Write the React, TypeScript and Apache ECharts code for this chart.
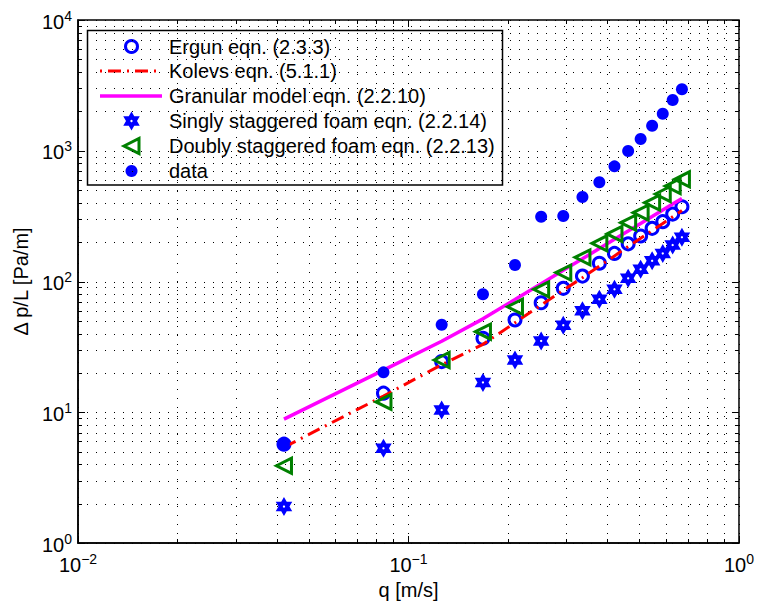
import React, { useEffect, useRef } from "react";
import * as echarts from "echarts";

const FONT = "Liberation Sans, Arial, Helvetica, sans-serif";

const qValues = [0.042, 0.084, 0.126, 0.168, 0.21, 0.252, 0.294, 0.336, 0.378, 0.42, 0.462, 0.504, 0.546, 0.588, 0.63, 0.672];
const ergun = [5.7, 14.0, 24.4, 36.8, 50.8, 68.8, 88.7, 110, 138, 164, 194, 223, 255, 287, 328, 373];
const kolevs = [5.4, 13.3, 23.1, 33.1, 48.4, 66.0, 85.8, 107, 131, 157, 185, 214, 245, 278, 313, 349];
const granular = [8.86, 21.0, 34.9, 51.8, 72.8, 96.2, 122, 149, 179, 210, 243, 278, 314, 352, 391, 431];
const singly = [1.9, 5.3, 10.4, 16.9, 25.1, 35.1, 46.3, 59.8, 73.1, 87.2, 105.7, 124, 144, 164, 190, 218];
const doubly = [3.9, 12.0, 25.1, 41.3, 64.1, 87.1, 117, 153, 196, 231, 282, 336, 401, 467, 537, 605];
const measured = [5.7, 20.2, 46.7, 79.8, 133.7, 313, 317, 443, 574, 760, 995, 1230, 1555, 1920, 2445, 2950];

const seriesNames = [
  "Ergun eqn. (2.3.3)",
  "Kolevs eqn. (5.1.1)",
  "Granular model eqn. (2.2.10)",
  "Singly staggered foam eqn. (2.2.14)",
  "Doubly staggered foam eqn. (2.2.13)",
  "data",
];

const xMajorTicks = [0.01, 0.1, 1];
const xMinorTicks = [0.02, 0.03, 0.04, 0.05, 0.06, 0.07, 0.08, 0.09, 0.2, 0.3, 0.4, 0.5, 0.6, 0.7, 0.8, 0.9];
const yMajorTicks = [1, 10, 100, 1000, 10000];
const yMinorTicks = [2, 3, 4, 5, 6, 7, 8, 9, 20, 30, 40, 50, 60, 70, 80, 90, 200, 300, 400, 500, 600, 700, 800, 900, 2000, 3000, 4000, 5000, 6000, 7000, 8000, 9000];

const BLUE = "#0000ff";
const RED = "#ff0000";
const MAGENTA = "#ff00ff";
const GREEN = "#008000";

function hexPoints(cx: number, cy: number, w: number, h: number): number[][] {
  const pts: number[][] = [];
  const r = 1 / Math.sqrt(3);
  for (let k = 0; k < 12; k++) {
    const ang = (-90 + k * 30) * Math.PI / 180;
    const rad = k % 2 === 0 ? 1 : r;
    pts.push([cx + (rad * Math.cos(ang)) * (w / Math.sqrt(3)), cy + rad * Math.sin(ang) * (h / 2)]);
  }
  return pts;
}

function hexagramPath(): string {
  const pts = hexPoints(0, 0, Math.sqrt(3), 2).map((p) => `${p[0].toFixed(4)} ${p[1].toFixed(4)}`);
  let d = "M" + pts[0] + pts.slice(1).map((p) => " L" + p).join("") + " Z";
  const h: string[] = [];
  const hr = 0.13;
  for (let k = 0; k < 6; k++) {
    const ang = (-90 - k * 60) * Math.PI / 180;
    h.push(`${(hr * Math.cos(ang)).toFixed(4)} ${(hr * Math.sin(ang)).toFixed(4)}`);
  }
  d += " M" + h[0] + h.slice(1).map((p) => " L" + p).join("") + " Z";
  return "path://" + d;
}

function pairs(vals: number[]) {
  return qValues.map((q, i) => [q, vals[i]]);
}

function supLabel(v: number) {
  const e = Math.round(Math.log10(v));
  const s = e < 0 ? "\u2212" + -e : String(e);
  return `{b|10}{s|${s}}`;
}

const richLabel = {
  b: { fontSize: 20, fontFamily: FONT, color: "#000", verticalAlign: "bottom" },
  s: { fontSize: 14, fontFamily: FONT, color: "#000", verticalAlign: "bottom", padding: [0, 0, 9, 0] },
};

function buildLegend() {
  const bx = 87.5, by = 30.5, bw = 415, bh = 154.5;
  const rows = [46.5, 71, 96, 121, 146, 171];
  const mx = 131.5;
  const lx1 = 100, lx2 = 162;
  const tx = 169;
  const children: any[] = [
    { type: "rect", shape: { x: bx, y: by, width: bw, height: bh }, style: { fill: "#fff", stroke: "#000", lineWidth: 1.5 } },
  ];
  children.push({ type: "circle", shape: { cx: mx, cy: rows[0], r: 6 }, style: { fill: "none", stroke: BLUE, lineWidth: 3 } });
  children.push({ type: "line", shape: { x1: lx1, y1: rows[1], x2: lx2, y2: rows[1] }, style: { stroke: RED, lineWidth: 3, lineDash: [2, 6, 13, 6] } });
  children.push({ type: "line", shape: { x1: lx1, y1: rows[2], x2: lx2, y2: rows[2] }, style: { stroke: MAGENTA, lineWidth: 3.5 } });
  children.push({ type: "polygon", shape: { points: hexPoints(mx, rows[3], 16.5, 19) }, style: { fill: BLUE } });
  children.push({ type: "circle", shape: { cx: mx, cy: rows[3], r: 1.2 }, style: { fill: "#fff" } });
  children.push({
    type: "polygon",
    shape: { points: [[mx - 7.5, rows[4]], [mx + 7.5, rows[4] - 7.5], [mx + 7.5, rows[4] + 7.5]] },
    style: { fill: "none", stroke: GREEN, lineWidth: 3 },
  });
  children.push({ type: "circle", shape: { cx: mx, cy: rows[5], r: 6 }, style: { fill: BLUE } });
  seriesNames.forEach((name, i) => {
    children.push({
      type: "text",
      x: tx,
      y: rows[i],
      style: { text: name, fontSize: 20, fontFamily: FONT, fill: "#000", verticalAlign: "middle", align: "left" },
    });
  });
  return [{ type: "group", z: 100, children }];
}

export default function App() {
  const ref = useRef<HTMLDivElement>(null);
  useEffect(() => {
    if (!ref.current) return;
    const chart = echarts.init(ref.current, null, { renderer: "svg" });
    const dotted = { stroke: "#000", lineWidth: 1, lineDash: [1, 8] };
    const solid = { stroke: "#000", lineWidth: 1 };
    const xGridData = [
      ...xMajorTicks.map((v) => [v, 1, 1]),
      ...xMinorTicks.map((v) => [v, 1, 0]),
    ];
    const yGridData = [
      ...yMajorTicks.map((v) => [0.01, v, 1]),
      ...yMinorTicks.map((v) => [0.01, v, 0]),
    ];
    const option: any = {
      animation: false,
      backgroundColor: "#fff",
      grid: {
        left: 78,
        right: 16,
        top: 20,
        bottom: 64,
        show: true,
        borderColor: "#000",
        borderWidth: 1.5,
        backgroundColor: "transparent",
      },
      xAxis: {
        type: "log",
        logBase: 10,
        min: 0.01,
        max: 1,
        name: "q [m/s]",
        nameLocation: "middle",
        nameGap: 37,
        nameTextStyle: { fontSize: 20, fontFamily: FONT, color: "#000" },
        axisLine: { show: true, lineStyle: { color: "#000", width: 1.5 } },
        axisTick: { show: false },
        splitLine: { show: false },
        axisLabel: { formatter: supLabel, rich: richLabel, margin: 9 },
      },
      yAxis: {
        type: "log",
        logBase: 10,
        min: 1,
        max: 10000,
        name: "\u0394 p/L [Pa/m]",
        nameLocation: "middle",
        nameGap: 47,
        nameRotate: 90,
        nameTextStyle: { fontSize: 20, fontFamily: FONT, color: "#000" },
        axisLine: { show: true, lineStyle: { color: "#000", width: 1.5 } },
        axisTick: { show: false },
        splitLine: { show: false },
        axisLabel: { formatter: supLabel, rich: richLabel, margin: 6 },
      },
      graphic: buildLegend(),
      series: [
        {
          type: "custom",
          name: "xgrid",
          silent: true,
          z: 0,
          encode: { x: 0, y: 1 },
          data: xGridData,
          renderItem: (params: any, api: any) => {
            const cs = params.coordSys;
            const px = Math.round(api.coord([api.value(0), 1])[0]) + 0.5;
            const L = api.value(2) ? 7 : 4;
            const top = cs.y;
            const bot = cs.y + cs.height;
            return {
              type: "group",
              children: [
                { type: "line", shape: { x1: px, y1: top, x2: px, y2: bot }, style: dotted },
                { type: "line", shape: { x1: px, y1: bot, x2: px, y2: bot - L }, style: solid },
                { type: "line", shape: { x1: px, y1: top, x2: px, y2: top + L }, style: solid },
              ],
            };
          },
        },
        {
          type: "custom",
          name: "ygrid",
          silent: true,
          z: 0,
          encode: { x: 0, y: 1 },
          data: yGridData,
          renderItem: (params: any, api: any) => {
            const cs = params.coordSys;
            const py = Math.round(api.coord([0.01, api.value(1)])[1]) + 0.5;
            const L = api.value(2) ? 7 : 4;
            const left = cs.x;
            const right = cs.x + cs.width;
            return {
              type: "group",
              children: [
                { type: "line", shape: { x1: left, y1: py, x2: right, y2: py }, style: dotted },
                { type: "line", shape: { x1: left, y1: py, x2: left + L, y2: py }, style: solid },
                { type: "line", shape: { x1: right, y1: py, x2: right - L, y2: py }, style: solid },
              ],
            };
          },
        },
        {
          name: seriesNames[0],
          type: "scatter",
          data: pairs(ergun),
          symbol: "circle",
          symbolSize: 12,
          itemStyle: { color: "rgba(255,255,255,0)", borderColor: BLUE, borderWidth: 3, opacity: 1 },
          z: 2,
        },
        {
          name: seriesNames[1],
          type: "line",
          data: pairs(kolevs),
          symbol: "none",
          lineStyle: { color: RED, width: 3, type: [13, 6, 2, 6] },
          itemStyle: { color: RED },
          z: 3,
        },
        {
          name: seriesNames[2],
          type: "line",
          data: pairs(granular),
          symbol: "none",
          lineStyle: { color: MAGENTA, width: 3.5 },
          itemStyle: { color: MAGENTA },
          z: 4,
        },
        {
          name: seriesNames[3],
          type: "scatter",
          data: pairs(singly),
          symbol: hexagramPath(),
          symbolSize: [16.5, 19],
          itemStyle: { color: BLUE, opacity: 1 },
          z: 5,
        },
        {
          name: seriesNames[4],
          type: "scatter",
          data: pairs(doubly),
          symbol: "triangle",
          symbolRotate: 90,
          symbolSize: 15,
          itemStyle: { color: "rgba(255,255,255,0)", borderColor: GREEN, borderWidth: 3, opacity: 1 },
          z: 6,
        },
        {
          name: seriesNames[5],
          type: "scatter",
          data: pairs(measured),
          symbol: "circle",
          symbolSize: 12,
          itemStyle: { color: BLUE, opacity: 1 },
          z: 7,
        },
      ],
    };
    chart.setOption(option);
    return () => chart.dispose();
  }, []);
  return <div ref={ref} style={{ position: "fixed", left: 0, top: 0, width: 757, height: 607 }} />;
}
